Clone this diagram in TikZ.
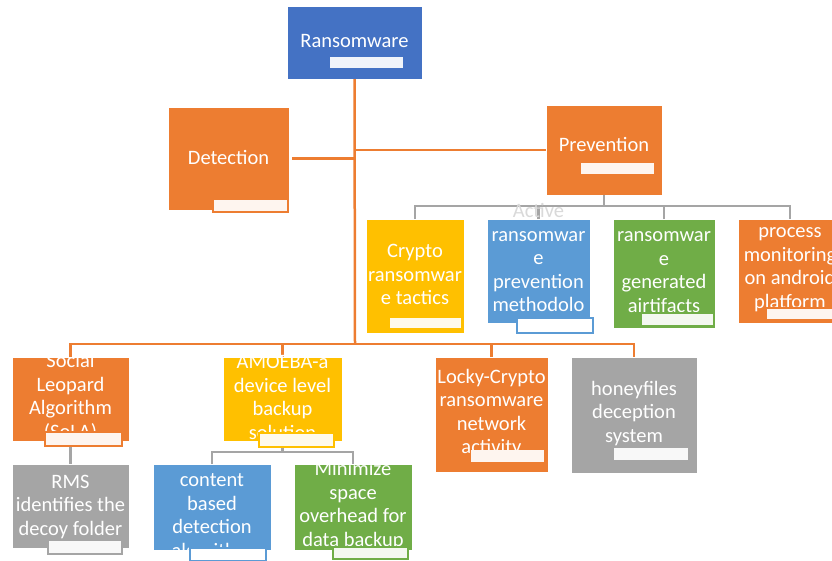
\documentclass[tikz,border=0pt]{standalone}
\usepackage{fontspec}
\setmainfont{Carlito}
\definecolor{smdblue}{HTML}{4472C4}
\definecolor{smblue}{HTML}{5B9BD5}
\definecolor{smorange}{HTML}{ED7D31}
\definecolor{smyellow}{HTML}{FFC000}
\definecolor{smgreen}{HTML}{70AD47}
\definecolor{smgray}{HTML}{A5A5A5}

\begin{document}
\begin{tikzpicture}
  [x=1pt, y=-1pt,
   every node/.style={inner sep=0pt, outer sep=0pt},
   box/.style={fill=#1, draw=white, line width=0.5pt, anchor=north west},
   txt/.style={text=white, align=center, yshift=1.5pt,
               font=\fontsize{20.5pt}{23.5pt}\selectfont},
   tag/.style={fill=#1!8!white, draw=#1, line width=1.5pt, anchor=north west},
   oline/.style={draw=smorange, line width=2.5pt},
   gline/.style={draw=smgray, line width=2.5pt}]
  \useasboundingbox (0,0) rectangle (832,560);
  \clip (0,0) rectangle (832,560);

  % top
  \node[box=smdblue, minimum width=135pt, minimum height=73pt] (ransom) at (287,6) {};
  \node[box=smorange, minimum width=121pt, minimum height=103pt] (detect) at (168,107) {};
  \node[box=smorange, minimum width=116pt, minimum height=90pt] (prevent) at (546,105) {};

  % prevention row
  \node[box=smyellow, minimum width=98pt, minimum height=114pt] (crypto) at (366,219) {};
  \node[box=smblue, minimum width=103pt, minimum height=104pt] (active) at (487,219) {};
  \node[box=smgreen, minimum width=102pt, minimum height=109pt] (arti) at (613,219) {};
  \node[box=smorange, minimum width=104pt, minimum height=104pt] (process) at (738,219) {};

  % detection row
  \node[box=smorange, minimum width=117pt, minimum height=84pt] (social) at (12,357) {};
  \node[box=smyellow, minimum width=119pt, minimum height=84pt] (amoeba) at (223,357) {};
  \node[box=smorange, minimum width=113pt, minimum height=115pt] (locky) at (435,357) {};
  \node[box=smgray, minimum width=126pt, minimum height=116pt] (honey) at (571,357) {};

  % last row
  \node[box=smgray, minimum width=117pt, minimum height=84pt] (rms) at (12,464) {};
  \node[box=smblue, minimum width=118pt, minimum height=86pt] (content) at (153,464) {};
  \node[box=smgreen, minimum width=118pt, minimum height=86pt] (minim) at (294,464) {};

  % connectors
  \coordinate (bus) at (355,344);
  \draw[oline] (ransom.south) -- (bus);
  \draw[oline, shorten <=3pt] (detect.east) -- (detect.east -| ransom.south);
  \draw[oline] (prevent.west -| ransom.south) -- (prevent.west);
  \draw[oline] (social.north) |- (bus) -| (honey.north);
  \draw[oline] (amoeba.north) -- (amoeba.north |- bus);
  \draw[oline] (locky.north) -- (locky.north |- bus);

  \coordinate (pbus) at (604,206);
  \draw[gline] (prevent.south) -- (pbus);
  \draw[gline] (crypto.north) |- (pbus) -| (process.north);
  \draw[gline] (active.north) -- (active.north |- pbus);
  \draw[gline] (arti.north) -- (arti.north |- pbus);

  \coordinate (abus) at (282.5,452);
  \draw[gline] (amoeba.south) -- (abus);
  \draw[gline] (content.north) |- (abus) -| (minim.north);
  \draw[gline] (social.south) -- (rms.north);

  % texts
  \node[txt] (ransom-txt) at (ransom.center) {Ransomware};
  \node[txt] (detect-txt) at (detect.center) {Detection};
  \node[txt, yshift=4pt] (prevent-txt) at (prevent.center) {Prevention};
  \node[txt] (crypto-txt) at (crypto.center) {Crypto\\ransomwar\\e tactics};
  \node[txt, yshift=12pt] (active-txt) at (active.center)
    {{\color{gray!30}Active}\\ransomwar\\e\\prevention\\methodolo};
  \node[txt] (arti-txt) at (arti.center) {ransomwar\\e\\generated\\airtifacts};
  \node[txt, yshift=0pt] (process-txt) at (process.center) {process\\monitoring\\on android\\platform};
  \node[txt, yshift=0pt] (social-txt) at (social.center) {Social\\Leopard\\Algorithm\\(SoLA)};
  \node[txt, yshift=0pt] (amoeba-txt) at (amoeba.center) {AMOEBA-a\\device level\\backup\\solution};
  \node[txt, yshift=0pt] (locky-txt) at (locky.center) {Locky-Crypto\\ransomware\\network\\activity};
  \node[txt, yshift=0pt] (honey-txt) at (honey.center) {honeyfiles\\deception\\system};
  \node[txt, yshift=-2pt] (rms-txt) at (rms.center) {RMS\\identifies the\\decoy folder};
  \node[txt, yshift=-12pt] (content-txt) at (content.center) {content\\based\\detection\\algorithm};
  \node[txt] (minim-txt) at (minim.center) {Minimize\\space\\overhead for\\data backup};

  % small tags
  \node[tag=smdblue, draw=none, minimum width=73pt, minimum height=11pt] (ransom-tag) at (330,57) {};
  \node[tag=smorange, minimum width=75pt, minimum height=13pt] (detect-tag) at (213,199) {};
  \node[tag=smorange, draw=none, minimum width=73pt, minimum height=11pt] (prevent-tag) at (581,163) {};
  \node[tag=smyellow, minimum width=73pt, minimum height=12pt] (crypto-tag) at (389,317) {};
  \node[tag=smblue, fill=white, minimum width=76pt, minimum height=15pt] (active-tag) at (517,318) {};
  \node[tag=smgreen, minimum width=73pt, minimum height=13pt] (arti-tag) at (641,313) {};
  \node[tag=smorange, minimum width=75pt, minimum height=12pt] (process-tag) at (766,308) {};
  \node[tag=smorange, minimum width=77pt, minimum height=14pt] (social-tag) at (45,432) {};
  \node[tag=smyellow, minimum width=75pt, minimum height=14pt] (amoeba-tag) at (259,433) {};
  \node[tag=smorange, draw=none, minimum width=73pt, minimum height=12pt] (locky-tag) at (471,450) {};
  \node[tag=smgray, draw=none, minimum width=74pt, minimum height=12pt] (honey-tag) at (614,448) {};
  \node[tag=smgray, minimum width=74pt, minimum height=14pt] (rms-tag) at (48,540) {};
  \node[tag=smblue, fill=white, minimum width=76pt, minimum height=13pt] (content-tag) at (190,548) {};
  \node[tag=smgreen, minimum width=75pt, minimum height=12pt] (minim-tag) at (333,547) {};
\end{tikzpicture}
\end{document}
